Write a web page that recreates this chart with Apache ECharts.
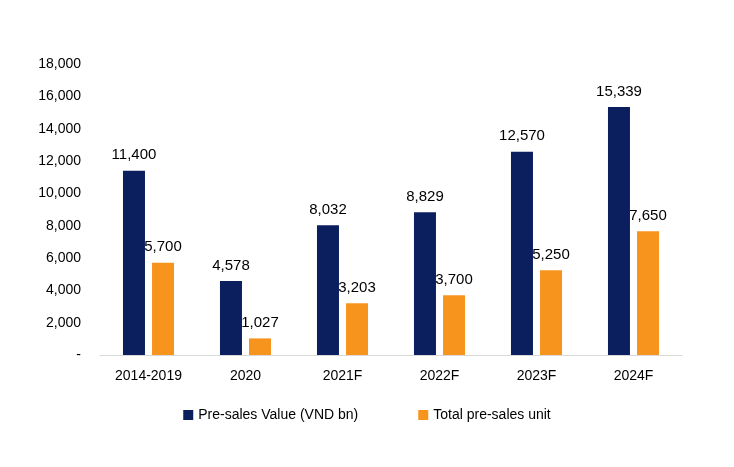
<!DOCTYPE html>
<html><head><meta charset="utf-8">
<script src="https://cdn.jsdelivr.net/npm/echarts@6/dist/echarts.min.js"></script>
<style>html,body{margin:0;padding:0;background:#fff}#c{width:734px;height:467px}</style>
</head><body><div id="c"></div>
<script>
const categories = ['2014-2019','2020','2021F','2022F','2023F','2024F'];
const presalesValue = [11400,4578,8032,8829,12570,15339];
const presalesUnit = [5700,1027,3203,3700,5250,7650];
const yTicks = [0,2000,4000,6000,8000,10000,12000,14000,16000,18000];
const fmt = v => v === 0 ? '-' : v.toLocaleString('en-US');
const chart = echarts.init(document.getElementById('c'));
const lbl = {show:true,position:'top',color:'#000',fontSize:15,fontFamily:'Liberation Sans, Arial',formatter:p=>fmt(p.value),distance:8};
chart.setOption({
  animation:false,
  textStyle:{fontFamily:'Liberation Sans, Arial'},
  grid:{left:100,right:52,top:64,bottom:112},
  legend:{bottom:40,left:'center',itemWidth:10,itemHeight:10,itemGap:60,icon:'rect',
    textStyle:{fontSize:14,color:'#000'}},
  xAxis:{type:'category',data:categories,axisTick:{show:false},
    axisLine:{lineStyle:{color:'#d9d9d9'}},
    axisLabel:{color:'#000',fontSize:14,margin:14}},
  yAxis:{type:'value',min:yTicks[0],max:yTicks[yTicks.length-1],interval:2000,
    splitLine:{show:false},axisLine:{show:false},axisTick:{show:false},
    axisLabel:{color:'#000',fontSize:14,margin:19,formatter:fmt}},
  series:[
    {name:'Pre-sales Value (VND bn)',type:'bar',data:presalesValue,barWidth:22,barGap:'32%',
     itemStyle:{color:'#0b1f5e'},label:lbl},
    {name:'Total pre-sales unit',type:'bar',data:presalesUnit,barWidth:22,
     itemStyle:{color:'#f7941d'},label:lbl}
  ]
});
</script></body></html>
